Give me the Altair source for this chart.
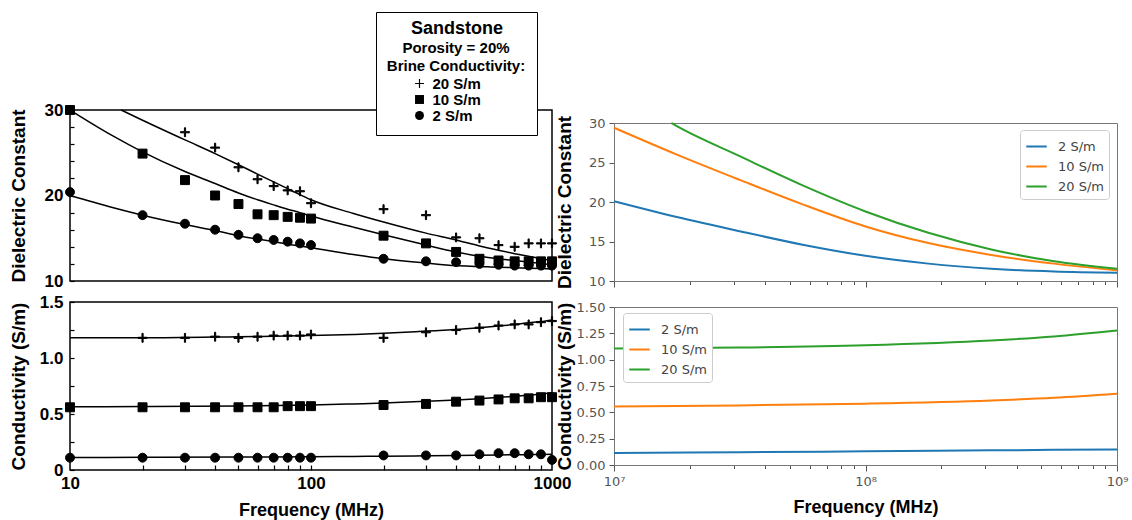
import altair as alt
import pandas as pd

# ---------------- data: left (measured, scanned) panels ----------------
brine_left = ["20 S/m", "10 S/m", "2 S/m"]

f_pts = [10, 20, 30, 40, 50, 60, 70, 80, 90, 100, 200, 300, 400, 500, 600, 700, 800, 900, 1000]

eps_pts_20_f = [30, 40, 50, 60, 70, 80, 90, 100, 200, 300, 400, 500, 600, 700, 800, 900, 1000]
eps_pts_20 = [27.4, 25.6, 23.3, 21.9, 21.1, 20.6, 20.5, 19.1, 18.4, 17.7, 15.1, 15.0, 14.2, 14.0, 14.4, 14.4, 14.4]
eps_pts_10 = [30.0, 24.9, 21.8, 20.0, 19.0, 17.8, 17.7, 17.5, 17.4, 17.3, 15.3, 14.4, 13.4, 12.6, 12.4, 12.3, 12.3, 12.3, 12.3]
eps_pts_2 = [20.4, 17.7, 16.7, 16.0, 15.4, 15.0, 14.8, 14.6, 14.4, 14.2, 12.6, 12.3, 12.2, 12.0, 11.9, 11.8, 11.8, 11.8, 11.8]

f_fit = [10, 15, 20, 30, 40, 50, 60, 70, 80, 90, 100, 150, 200, 300, 400, 500, 600, 700, 800, 900, 1000]
eps_fit_20_f = [16.3, 20, 30, 40, 50, 60, 70, 80, 90, 100, 150, 200, 300, 400, 500, 600, 700, 800, 900, 1000]
eps_fit_20 = [30.0, 28.8, 26.5, 24.9, 23.6, 22.5, 21.6, 20.8, 20.1, 19.5, 17.9, 16.9, 15.6, 14.8, 14.1, 13.6, 13.2, 12.9, 12.6, 12.4]
eps_fit_10 = [30.0, 27.0, 25.1, 22.8, 21.4, 20.3, 19.5, 18.9, 18.4, 18.0, 17.6, 16.3, 15.4, 14.2, 13.4, 12.9, 12.6, 12.4, 12.2, 12.05, 11.9]
eps_fit_2 = [20.0, 18.6, 17.7, 16.6, 15.9, 15.3, 14.9, 14.6, 14.3, 14.1, 13.9, 13.1, 12.6, 12.1, 11.8, 11.7, 11.6, 11.55, 11.5, 11.45, 11.4]

sig_pts_20_f = [20, 30, 40, 50, 60, 70, 80, 90, 100, 200, 300, 400, 500, 600, 700, 800, 900, 1000]
sig_pts_20 = [1.18, 1.18, 1.19, 1.18, 1.19, 1.20, 1.20, 1.20, 1.21, 1.18, 1.23, 1.25, 1.27, 1.29, 1.30, 1.30, 1.32, 1.33]
sig_pts_10 = [0.56, 0.56, 0.56, 0.56, 0.56, 0.56, 0.56, 0.57, 0.57, 0.57, 0.58, 0.59, 0.61, 0.62, 0.63, 0.64, 0.64, 0.65, 0.65]
sig_pts_2 = [0.11, 0.11, 0.11, 0.11, 0.11, 0.11, 0.11, 0.11, 0.11, 0.11, 0.13, 0.13, 0.13, 0.14, 0.15, 0.15, 0.14, 0.14, 0.09]

sig_fit_f = [10, 20, 50, 100, 150, 200, 300, 400, 500, 600, 700, 800, 900, 1000]
sig_fit_20 = [1.18, 1.18, 1.19, 1.20, 1.21, 1.22, 1.24, 1.255, 1.27, 1.285, 1.30, 1.315, 1.325, 1.34]
sig_fit_10 = [0.565, 0.567, 0.572, 0.58, 0.59, 0.598, 0.613, 0.625, 0.637, 0.648, 0.658, 0.668, 0.678, 0.69]
sig_fit_2 = [0.112, 0.113, 0.115, 0.118, 0.121, 0.123, 0.127, 0.130, 0.132, 0.134, 0.136, 0.137, 0.139, 0.14]

# ---------------- data: right (model) panels ----------------
brine_right = ["2 S/m", "10 S/m", "20 S/m"]
colors_right = ["#1f77b4", "#ff7f0e", "#2ca02c"]

f_model = [1.0e7, 1.778e7, 3.162e7, 5.623e7, 1.0e8, 1.778e8, 3.162e8, 5.623e8, 1.0e9]
eps_model_2 = [20.1, 18.1, 16.3, 14.6, 13.2, 12.2, 11.55, 11.2, 11.05]
eps_model_10 = [29.4, 26.0, 22.8, 19.7, 16.9, 14.8, 13.3, 12.2, 11.35]
eps_model_20_f = [1.69e7, 1.778e7, 3.162e7, 5.623e7, 1.0e8, 1.778e8, 3.162e8, 5.623e8, 1.0e9]
eps_model_20 = [30.0, 29.6, 25.8, 22.1, 18.8, 16.1, 14.0, 12.5, 11.55]

f_sig_model = [1.0e7, 3.162e7, 1.0e8, 3.162e8, 5.623e8, 1.0e9]
sig_model_2 = [0.114, 0.121, 0.130, 0.139, 0.144, 0.148]
sig_model_10 = [0.556, 0.566, 0.582, 0.612, 0.638, 0.676]
sig_model_20 = [1.105, 1.115, 1.137, 1.182, 1.22, 1.276]

minor_left = [20, 30, 40, 50, 60, 70, 80, 90, 100, 200, 300, 400, 500, 600, 700, 800, 900]
ticks_right = [1e7, 2e7, 3e7, 4e7, 5e7, 6e7, 7e7, 8e7, 9e7,
               1e8, 2e8, 3e8, 4e8, 5e8, 6e8, 7e8, 8e8, 9e8, 1e9]


def frame(groups):
    rows = []
    for label, fs, vs in groups:
        for f, v in zip(fs, vs):
            rows.append({"f": f, "v": v, "brine": label})
    return pd.DataFrame(rows)


eps_pts_df = frame([("20 S/m", eps_pts_20_f, eps_pts_20), ("10 S/m", f_pts, eps_pts_10), ("2 S/m", f_pts, eps_pts_2)])
eps_fit_df = frame([("20 S/m", eps_fit_20_f, eps_fit_20), ("10 S/m", f_fit, eps_fit_10), ("2 S/m", f_fit, eps_fit_2)])
sig_pts_df = frame([("20 S/m", sig_pts_20_f, sig_pts_20), ("10 S/m", f_pts, sig_pts_10), ("2 S/m", f_pts, sig_pts_2)])
sig_fit_df = frame([("20 S/m", sig_fit_f, sig_fit_20), ("10 S/m", sig_fit_f, sig_fit_10), ("2 S/m", sig_fit_f, sig_fit_2)])
eps_model_df = frame([("2 S/m", f_model, eps_model_2), ("10 S/m", f_model, eps_model_10), ("20 S/m", eps_model_20_f, eps_model_20)])
sig_model_df = frame([("2 S/m", f_sig_model, sig_model_2), ("10 S/m", f_sig_model, sig_model_10), ("20 S/m", f_sig_model, sig_model_20)])

FONT_L = "Liberation Sans"
FONT_R = "DejaVu Sans"
# thin plus sign drawn as a filled outline so it shows both in the plot and in the legend
PLUS = ("M-1,-0.13L-0.13,-0.13L-0.13,-1L0.13,-1L0.13,-0.13L1,-0.13L1,0.13"
        "L0.13,0.13L0.13,1L-0.13,1L-0.13,0.13L-1,0.13Z")
GREY = "#555555"
FRAME = "#777777"
NBSP = "\u00a0"

xs_left = alt.Scale(type="log", domain=[10, 1000], nice=False)
xs_right = alt.Scale(type="log", domain=[1e7, 1e9], nice=False)
shape_scale = alt.Scale(domain=brine_left, range=[PLUS, "square", "circle"])
color_scale = alt.Scale(domain=brine_right, range=colors_right)

LW, LT_H, LB_H = 482, 171, 168
RW = 503
# right panels sit lower inside their grid cells: frame of top-right 13..171, bottom-right 5..163
RT_RANGE = [171, 13]
RB_RANGE = [163, 5]

left_label_axis = dict(ticks=False, tickSize=0, domain=False, grid=False,
                       labelFont=FONT_L, labelFontSize=17, labelFontWeight="bold",
                       labelColor="black", titleFont=FONT_L, titleFontWeight="bold",
                       titleColor="black")
inward = dict(labels=False, domain=False, grid=False, title=None, tickColor="black", tickWidth=1.2)
point_style = dict(fill="black", stroke="black", strokeWidth=1, opacity=1, size=80)

# ---- left top: dielectric constant ----
lt_fit = alt.Chart(eps_fit_df).mark_line(color="black", strokeWidth=1.5, interpolate="monotone").encode(
    x=alt.X("f:Q", scale=xs_left, axis=None),
    y=alt.Y("v:Q", scale=alt.Scale(domain=[10, 30], nice=False, zero=False),
            axis=alt.Axis(orient="left", values=list(range(10, 31, 2)), tickSize=4, offset=-4, **inward)),
    detail="brine:N",
)
lt_pts = alt.Chart(eps_pts_df).mark_point(**point_style).encode(
    x=alt.X("f:Q", scale=xs_left,
            axis=alt.Axis(orient="bottom", values=minor_left, tickSize=5, offset=-5, **inward)),
    y=alt.Y("v:Q", scale=alt.Scale(domain=[10, 30], nice=False, zero=False),
            axis=alt.Axis(orient="left", values=[10, 20, 30], labelPadding=7,
                          title="Dielectric Constant", titleFontSize=19, titleX=-42, **left_label_axis)),
    shape=alt.Shape("brine:N", scale=shape_scale, legend=alt.Legend(
        orient="none", legendX=306, legendY=-98,
        title=[NBSP, "Porosity = 20%", "Brine Conductivity:"],
        titleFont=FONT_L, titleFontSize=15, titleFontWeight="bold", titleColor="black",
        titleAnchor="middle", titleAlign="center", titleLineHeight=18, titlePadding=2,
        labelFont=FONT_L, labelFontSize=15, labelFontWeight="bold", labelColor="black",
        labelExpr="datum.label == '2 S/m' ? '\u00a0\u00a0' + datum.label : datum.label",
        symbolFillColor="black", symbolStrokeColor="black", symbolStrokeWidth=0.5, symbolSize=80,
        symbolOffset=-20, labelOffset=5.5, rowPadding=0, padding=11,
        fillColor="white", strokeColor="black", zindex=1)),
)
LT = alt.layer(lt_fit, lt_pts).resolve_axis(y="independent").properties(
    width=LW, height=LT_H, view=alt.ViewBackground(stroke="black", strokeWidth=1.5),
    title=alt.TitleParams("Sandstone", anchor="start", frame="group", align="center",
                          baseline="middle", dx=387, dy=35, offset=0, fontSize=18,
                          fontWeight="bold", font=FONT_L, color="black", zindex=3))

# ---- left bottom: conductivity ----
lb_fit = alt.Chart(sig_fit_df).mark_line(color="black", strokeWidth=1.5, interpolate="monotone").encode(
    x=alt.X("f:Q", scale=xs_left,
            axis=alt.Axis(orient="bottom", values=minor_left, tickSize=5, offset=-5, **inward)),
    y=alt.Y("v:Q", scale=alt.Scale(domain=[0, 1.5], nice=False),
            axis=alt.Axis(orient="left", values=[0, 0.25, 0.5, 0.75, 1.0, 1.25, 1.5], tickSize=4, offset=-4, **inward)),
    detail="brine:N",
)
lb_pts = alt.Chart(sig_pts_df).mark_point(**point_style).encode(
    x=alt.X("f:Q", scale=xs_left,
            axis=alt.Axis(orient="bottom", values=[10, 100, 1000], format="d", labelPadding=5, labelFlush=False,
                          labelOverlap=False, title="Frequency (MHz)", titleFontSize=18, titleY=31,
                          **left_label_axis)),
    y=alt.Y("v:Q", scale=alt.Scale(domain=[0, 1.5], nice=False),
            axis=alt.Axis(orient="left", values=[0, 0.5, 1.0, 1.5], labelPadding=7,
                          labelExpr="datum.value == 0 ? '0' : format(datum.value, '.1f')",
                          title="Conductivity (S/m)", titleFontSize=19, titleX=-42, **left_label_axis)),
    shape=alt.Shape("brine:N", scale=shape_scale, legend=None),
)
LB = alt.layer(lb_fit, lb_pts).resolve_axis(x="independent", y="independent").properties(
    width=LW, height=LB_H, view=alt.ViewBackground(stroke="black", strokeWidth=1.5))

# ---- right panels ----
major_test = "datum.value == 10000000 || datum.value == 100000000 || datum.value == 1000000000"
tick_size_cond = {"condition": {"test": major_test, "value": 6}, "value": 3.5}
right_y_common = dict(tickSize=5, tickColor=GREY, domain=True, domainColor=FRAME, grid=False,
                      labelFont=FONT_R, labelFontSize=13, labelColor=GREY, labelPadding=4,
                      titleFont=FONT_L, titleFontSize=19, titleFontWeight="bold",
                      titleColor="black", titleX=-40)
frame_axis = dict(domain=True, domainColor=FRAME, ticks=False, labels=False, grid=False, title=None)
legend_common = dict(title=None, fillColor="white", strokeColor="#cccccc", cornerRadius=3,
                     padding=5, labelFont=FONT_R, labelFontSize=13, labelColor="#444444",
                     symbolType="stroke", symbolStrokeWidth=2, symbolSize=420,
                     rowPadding=1, labelOffset=10, orient="none")

rt_lines = alt.Chart(eps_model_df).mark_line(strokeWidth=2, interpolate="monotone").encode(
    x=alt.X("f:Q", scale=xs_right,
            axis=alt.Axis(orient="bottom", values=ticks_right, labels=False, tickSize=tick_size_cond,
                          tickColor=GREY, domain=True, domainColor=FRAME, grid=False, title=None)),
    y=alt.Y("v:Q", scale=alt.Scale(domain=[10, 30], nice=False, zero=False, range=RT_RANGE),
            axis=alt.Axis(orient="left", values=[10, 15, 20, 25, 30], title="Dielectric Constant",
                          **right_y_common)),
    color=alt.Color("brine:N", scale=color_scale,
                    legend=alt.Legend(legendX=406, legendY=20, **legend_common)),
)
rt_frame = alt.Chart(eps_model_df).mark_line(opacity=0).encode(
    x=alt.X("f:Q", scale=xs_right, axis=alt.Axis(orient="top", offset=-13, **frame_axis)),
    y=alt.Y("v:Q", scale=alt.Scale(domain=[10, 30], nice=False, zero=False, range=RT_RANGE),
            axis=alt.Axis(orient="right", **frame_axis)),
    detail="brine:N",
)
RT = alt.layer(rt_lines, rt_frame).resolve_axis(x="independent", y="independent").properties(
    width=RW, height=LT_H, view=alt.ViewBackground(stroke="transparent"))

rb_lines = alt.Chart(sig_model_df).mark_line(strokeWidth=2, interpolate="monotone").encode(
    x=alt.X("f:Q", scale=xs_right,
            axis=alt.Axis(orient="bottom", offset=-5, values=ticks_right, tickSize=tick_size_cond,
                          tickColor=GREY, domain=True, domainColor=FRAME, grid=False,
                          labelFont=FONT_R, labelFontSize=13,
                          labelColor=GREY, labelPadding=4, labelFlush=False, labelOverlap=False,
                          labelExpr="datum.value == 10000000 ? '10\u2077' : datum.value == 100000000 ? '10\u2078' : datum.value == 1000000000 ? '10\u2079' : ''",
                          title="Frequency (MHz)", titleFont=FONT_L, titleFontSize=18,
                          titleFontWeight="bold", titleColor="black", titleY=33)),
    y=alt.Y("v:Q", scale=alt.Scale(domain=[0, 1.5], nice=False, range=RB_RANGE),
            axis=alt.Axis(orient="left", values=[0, 0.25, 0.5, 0.75, 1.0, 1.25, 1.5], format=".2f",
                          title="Conductivity (S/m)", **right_y_common)),
    color=alt.Color("brine:N", scale=color_scale,
                    legend=alt.Legend(legendX=9, legendY=11, **legend_common)),
)
rb_frame = alt.Chart(sig_model_df).mark_line(opacity=0).encode(
    x=alt.X("f:Q", scale=xs_right, axis=alt.Axis(orient="top", offset=-5, **frame_axis)),
    y=alt.Y("v:Q", scale=alt.Scale(domain=[0, 1.5], nice=False, range=RB_RANGE),
            axis=alt.Axis(orient="right", **frame_axis)),
    detail="brine:N",
)
RB = alt.layer(rb_lines, rb_frame).resolve_axis(x="independent", y="independent").properties(
    width=RW, height=LB_H, view=alt.ViewBackground(stroke="transparent"))

chart = alt.concat(
    LT, RT, LB, RB, columns=2, bounds="flush", spacing=alt.RowColnumber(row=21, column=62)
).resolve_scale(
    color="independent", shape="independent"
).resolve_legend(
    color="independent", shape="independent"
).properties(
    padding={"left": 8, "top": 10, "right": 0, "bottom": 0},
    background="white",
).configure(font=FONT_L).configure_view(stroke="transparent").configure_axis(grid=False)

chart.save("out.html", embed_options={"renderer": "svg", "actions": False})
